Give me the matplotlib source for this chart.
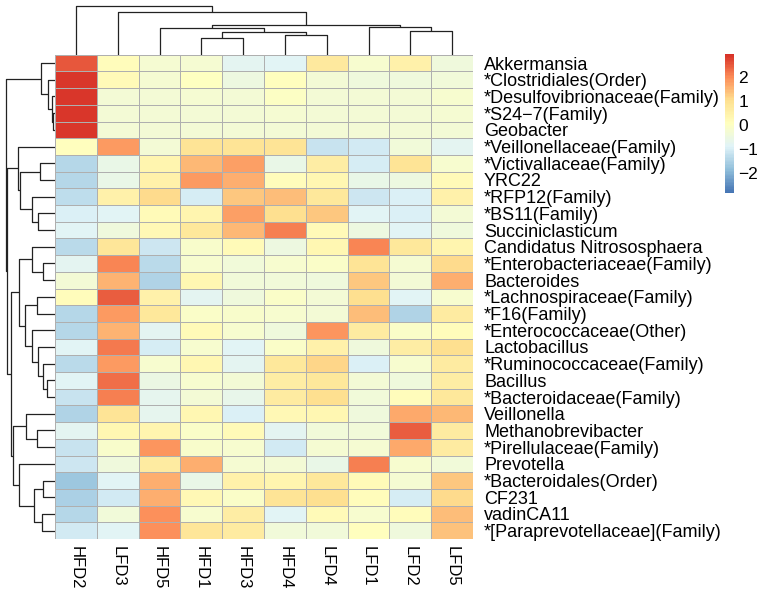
import numpy as np
import matplotlib
matplotlib.use("Agg")
import matplotlib.pyplot as plt
from matplotlib.colors import LinearSegmentedColormap

plt.rcParams['font.family'] = ['Liberation Sans', 'DejaVu Sans']

# column order as displayed (after clustering)
samples = ["HFD2", "LFD3", "HFD5", "HFD1", "HFD3", "HFD4", "LFD4", "LFD1", "LFD2", "LFD5"]

taxa = [
    "Akkermansia",
    "*Clostridiales(Order)",
    "*Desulfovibrionaceae(Family)",
    "*S24\u22127(Family)",
    "Geobacter",
    "*Veillonellaceae(Family)",
    "*Victivallaceae(Family)",
    "YRC22",
    "*RFP12(Family)",
    "*BS11(Family)",
    "Succiniclasticum",
    "Candidatus Nitrososphaera",
    "*Enterobacteriaceae(Family)",
    "Bacteroides",
    "*Lachnospiraceae(Family)",
    "*F16(Family)",
    "*Enterococcaceae(Other)",
    "Lactobacillus",
    "*Ruminococcaceae(Family)",
    "Bacillus",
    "*Bacteroidaceae(Family)",
    "Veillonella",
    "Methanobrevibacter",
    "*Pirellulaceae(Family)",
    "Prevotella",
    "*Bacteroidales(Order)",
    "CF231",
    "vadinCA11",
    "*[Paraprevotellaceae](Family)",
]

# row-scaled abundance (z-score)
zscores = [
    [2.50, 0.15, -0.25, -0.25, -0.80, -0.85, 0.75, -0.20, 0.50, -0.40],
    [2.85, 0.20, -0.25, 0.05, -0.50, 0.10, -0.30, -0.40, -0.40, -0.35],
    [2.85, -0.30, -0.30, -0.25, -0.30, 0.00, -0.30, -0.30, -0.30, -0.20],
    [2.85, -0.30, -0.30, -0.30, -0.30, -0.25, -0.30, -0.30, -0.30, -0.25],
    [2.85, -0.30, -0.30, -0.30, -0.30, -0.30, -0.30, -0.30, -0.30, -0.30],
    [0.10, 1.85, -0.30, 0.90, 0.90, 0.90, -1.20, -1.05, -0.35, -0.80],
    [-1.40, -0.60, 0.40, 1.50, 1.75, -0.60, 0.60, -1.00, 0.90, -0.20],
    [-1.40, -0.60, 0.50, 1.85, 1.60, 0.15, 0.30, -0.60, -0.50, 0.20],
    [-1.30, 0.50, 1.10, -1.00, 1.30, 1.40, 0.80, -1.10, -0.95, 0.50],
    [-0.95, -0.85, 0.20, 0.40, 1.80, 1.00, 1.30, -0.85, -0.95, -0.30],
    [-0.85, -0.40, 0.25, 0.80, 1.50, 2.10, 0.20, -0.50, -0.85, -0.40],
    [-1.35, 0.85, -1.15, -0.15, 0.20, -0.50, 0.30, 2.05, 0.80, 0.40],
    [-0.75, 2.05, -1.35, -0.20, -0.35, -0.20, -0.10, 0.90, -0.25, 1.10],
    [-0.30, 1.55, -1.45, 0.30, -0.35, -0.35, -0.40, 1.30, -0.30, 1.60],
    [0.15, 2.45, 0.50, -0.75, -0.45, -0.10, -0.30, 1.00, -0.85, -0.20],
    [-1.40, 1.85, 0.80, -0.10, -0.15, -0.20, -0.30, 1.40, -1.45, 0.70],
    [-1.40, 1.55, -0.80, 0.20, -0.20, -0.45, 1.90, 0.70, -0.10, 0.15],
    [-0.85, 2.15, -1.00, -0.20, -0.85, -0.10, 0.50, -0.45, 0.60, 1.00],
    [-1.35, 1.85, -0.20, 0.30, -0.80, 0.80, 1.15, -0.95, -0.20, 0.70],
    [-0.85, 2.30, -0.55, -0.20, -0.30, 0.60, 0.80, -0.30, -0.45, 0.60],
    [-1.20, 2.10, -0.70, -0.30, -0.65, 0.70, 1.00, -0.35, 0.15, 0.80],
    [-1.45, 0.90, -0.70, 0.35, -0.95, 0.25, 0.35, -0.45, 1.65, 1.50],
    [-0.80, 0.30, 0.40, -0.10, 0.20, -0.75, -0.35, -0.35, 2.45, 0.70],
    [-1.20, -0.15, 1.90, -0.15, -0.20, -1.05, -0.25, -0.25, 1.65, 0.70],
    [-1.15, -0.45, 0.70, 1.60, -0.25, -0.30, -0.60, 2.10, -0.20, -0.35],
    [-1.70, -0.85, 1.60, -0.60, 0.50, 0.40, 0.80, 0.20, -0.25, 1.30],
    [-1.55, -1.05, 1.60, 0.25, -0.10, 0.90, 1.00, 0.15, -1.00, 1.10],
    [-1.40, -0.35, 1.95, -0.20, 0.60, -0.85, 0.20, -0.20, 0.15, 1.45],
    [-1.05, -0.85, 1.95, 0.85, 0.70, -0.35, -0.35, 0.10, -0.45, 1.35],
]

# linkage in display order: [left, right, height]; ids >= n are earlier merges
col_merges = [
    [3, 4, 17.3], [5, 6, 19.7], [10, 11, 23.0], [2, 12, 26.7],
    [8, 9, 24.0], [7, 14, 27.7], [13, 15, 30.3], [1, 16, 43.3], [0, 17, 49.0],
]
row_merges = [
    [3, 4, 1.7], [2, 29, 2.7], [1, 30, 6.7], [0, 31, 14.3],
    [6, 7, 15.0], [9, 10, 16.7], [8, 34, 23.3], [33, 35, 35.0], [5, 36, 36.7],
    [12, 13, 11.7], [11, 38, 23.3], [14, 15, 18.3], [19, 20, 8.3], [18, 41, 11.7],
    [17, 42, 16.7], [16, 43, 22.7], [40, 44, 30.0], [39, 45, 35.7],
    [22, 23, 17.7], [21, 47, 29.0], [25, 26, 11.7], [27, 28, 12.7], [49, 50, 21.0],
    [24, 51, 36.0], [48, 52, 41.7], [46, 53, 44.3], [37, 54, 47.7], [32, 55, 49.0],
]

# pheatmap default palette
palette = ["#4575B4", "#91BFDB", "#E0F3F8", "#FFFFBF", "#FEE090", "#FC8D59", "#D73027"]
vmin, vmax = -2.83, 2.96

W, H = 763, 594


def px_axes(fig, left, top, width, height):
    return fig.add_axes([left / W, (H - top - height) / H, width / W, height / H])


def draw_dendro(ax, merges, n, vertical=False):
    pos = {i: i + 0.5 for i in range(n)}
    hgt = {i: 0.0 for i in range(n)}
    for k, (a, b, h) in enumerate(merges):
        xs = [pos[a], pos[a], pos[b], pos[b]]
        ys = [hgt[a], h, h, hgt[b]]
        if vertical:
            ax.plot(ys, xs, color="#222222", lw=0.9, solid_capstyle="butt")
        else:
            ax.plot(xs, ys, color="#222222", lw=0.9, solid_capstyle="butt")
        pos[n + k] = (pos[a] + pos[b]) / 2
        hgt[n + k] = h
    ax.axis("off")


def main():
    data = np.array(zscores)
    nrow, ncol = data.shape
    cmap = LinearSegmentedColormap.from_list("pheat", palette, N=100)

    fig = plt.figure(figsize=(W / 100, H / 100), dpi=100)

    # heatmap
    ax = px_axes(fig, 55, 54.7, 418, 484.3)
    mesh = ax.pcolormesh(data, cmap=cmap, vmin=vmin, vmax=vmax,
                         edgecolors="#AFAFAF", linewidth=0.6)
    ax.set_xlim(0, ncol)
    ax.set_ylim(nrow, 0)
    ax.set_xticks(np.arange(ncol) + 0.5)
    ax.set_xticklabels(samples, rotation=270, fontsize=12, va="top", ha="center")
    ax.set_yticks(np.arange(nrow) + 0.5)
    ax.set_yticklabels(taxa, fontsize=13)
    ax.yaxis.tick_right()
    ax.tick_params(axis="y", length=0, pad=8)
    ax.tick_params(axis="x", length=0, pad=5)
    for s in ax.spines.values():
        s.set_visible(False)

    # column dendrogram
    axt = px_axes(fig, 55, 5, 418, 50)
    draw_dendro(axt, col_merges, ncol)
    axt.set_xlim(0, ncol)
    axt.set_ylim(0, 50)

    # row dendrogram
    axl = px_axes(fig, 5, 54.7, 50, 484.3)
    draw_dendro(axl, row_merges, nrow, vertical=True)
    axl.set_xlim(50, 0)
    axl.set_ylim(nrow, 0)

    # legend bar
    cax = px_axes(fig, 725, 54, 9, 139)
    cb = fig.colorbar(mesh, cax=cax, ticks=[-2, -1, 0, 1, 2])
    cb.outline.set_visible(False)
    cb.ax.tick_params(length=0, labelsize=12.5, pad=3)

    fig.savefig("out.png", dpi=100)
    print("saved out.png")


if __name__ == "__main__":
    main()
